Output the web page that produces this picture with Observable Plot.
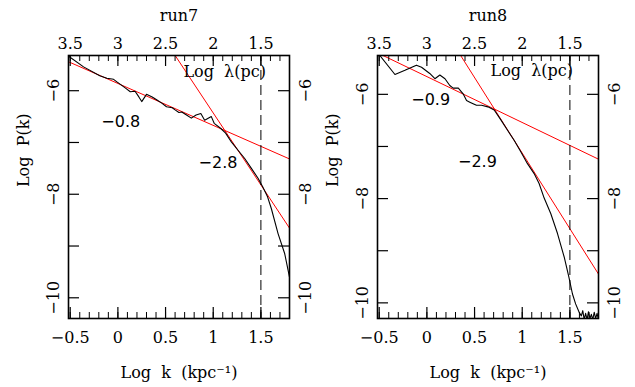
<!DOCTYPE html>
<html>
<head>
<meta charset="utf-8">
<script src="https://cdn.jsdelivr.net/npm/d3@7"></script>
<script src="https://cdn.jsdelivr.net/npm/@observablehq/plot@0.6"></script>
<style>
  html, body { margin: 0; padding: 0; background: #fff; }
  #wrap { display: flex; width: 635px; height: 387px; }
  svg { display: block; }
</style>
</head>
<body>
<div id="wrap"></div>
<script>
// ---- data ----
const panelTitles = ["run7", "run8"];

const run7K = [-0.52, -0.36, -0.19, -0.115, -0.045, -0.01, 0.08, 0.13, 0.18, 0.22, 0.25, 0.30, 0.36, 0.41, 0.46, 0.51, 0.57, 0.60, 0.64, 0.67, 0.72, 0.77, 0.82, 0.87, 0.91, 0.98, 1.01, 1.08, 1.13, 1.19, 1.26, 1.33, 1.40, 1.47, 1.52, 1.57, 1.61, 1.68, 1.75, 1.80];
const run7P = [-5.33, -5.54, -5.71, -5.76, -5.78, -5.83, -5.95, -6.02, -6.01, -6.12, -6.21, -6.07, -6.12, -6.18, -6.24, -6.31, -6.33, -6.37, -6.42, -6.41, -6.47, -6.53, -6.47, -6.44, -6.57, -6.50, -6.63, -6.73, -6.82, -6.99, -7.15, -7.31, -7.50, -7.69, -7.86, -8.05, -8.28, -8.76, -9.15, -9.60];

const run8K = [-0.50, -0.335, -0.23, -0.11, -0.056, 0.03, 0.084, 0.136, 0.19, 0.24, 0.276, 0.33, 0.38, 0.416, 0.45, 0.485, 0.52, 0.573, 0.64, 0.706, 0.776, 0.846, 0.915, 0.985, 1.055, 1.125, 1.177, 1.23, 1.30, 1.37, 1.44, 1.49, 1.527, 1.56, 1.597, 1.62, 1.635, 1.65, 1.665, 1.68, 1.695, 1.71, 1.725, 1.74, 1.755, 1.77, 1.785, 1.80];
const run8P = [-5.24, -5.62, -5.54, -5.44, -5.48, -5.60, -5.70, -5.63, -5.70, -5.83, -5.88, -5.88, -5.99, -6.12, -6.15, -6.18, -6.21, -6.21, -6.24, -6.30, -6.49, -6.69, -6.88, -7.10, -7.33, -7.52, -7.71, -7.99, -8.29, -8.67, -9.12, -9.51, -9.83, -10.02, -10.18, -10.25, -10.15, -10.32, -10.20, -10.32, -10.17, -10.30, -10.22, -10.32, -10.18, -10.30, -10.20, -10.32];

// fitted power-law slopes (label) and intercepts
const run7Slopes = [-0.81, -2.78];
const run7Intercepts = [-5.86, -3.65];
const run7SlopeLabels = ["−0.8", "−2.8"];
const run8Slopes = [-0.88, -2.9];
const run8Intercepts = [-5.66, -4.228];
const run8SlopeLabels = ["−0.9", "−2.9"];

// label anchor positions (data coordinates)
const run7LabelK = [0.03, 1.05];
const run7LabelP = [-6.6, -7.4];
const run8LabelK = [0.04, 0.53];
const run8LabelP = [-6.11, -7.3];

// ticks
const xMajor = [-0.5, 0, 0.5, 1, 1.5];
const xMajorLabels = ["−0.5", "0", "0.5", "1", "1.5"];
const lambdaLabels = ["3.5", "3", "2.5", "2", "1.5"];
const xMinor = d3.range(-5, 19).map(i => i / 10);
const yTicks = [-6, -7, -8, -9, -10];
const yLabelTicks = [-6, -8, -10];
const yLabels = ["−6", "−8", "−10"];
const kCut = 1.5;

const xDomain = [-0.518, 1.8];
const serif = "'DejaVu Serif', serif";
const sans = "'DejaVu Sans', sans-serif";

function panel(cfg) {
  const H = 387, mt = 55, mb = 69;
  const frameH = H - mt - mb;
  const frameW = cfg.width - cfg.ml - cfg.mr;
  const curve = cfg.K.map((k, i) => ({k, p: cfg.P[i]}));
  const fits = [];
  cfg.slopes.forEach((s, j) => {
    [xDomain[0], xDomain[1]].forEach(k => fits.push({fit: j, k, p: cfg.intercepts[j] + s * k}));
  });
  const labels = cfg.slopeLabels.map((t, i) => ({t, k: cfg.labelK[i], p: cfg.labelP[i]}));
  const xIdx = xMajor.map((v, i) => i);
  const T = {fontFamily: serif, fontSize: 16, fill: "#000", lineAnchor: "middle"};
  return Plot.plot({
    width: cfg.width, height: H,
    marginLeft: cfg.ml, marginRight: cfg.mr, marginTop: mt, marginBottom: mb,
    x: {domain: xDomain, axis: null},
    y: {domain: cfg.yDomain, axis: null},
    style: {background: "transparent", overflow: "visible"},
    marks: [
      Plot.line(fits, {x: "k", y: "p", z: "fit", stroke: "#ff0000", strokeWidth: 1, clip: true}),
      Plot.line(curve, {x: "k", y: "p", stroke: "#000", strokeWidth: 1.1, clip: true}),
      Plot.ruleX([kCut], {stroke: "#000", strokeWidth: 1, strokeDasharray: "10,5"}),
      // ticks (inward)
      Plot.tickX(xMajor, {x: d => d, insetTop: frameH - 11, stroke: "#000", strokeWidth: 1.2}),
      Plot.tickX(xMinor, {x: d => d, insetTop: frameH - 6, stroke: "#000", strokeWidth: 1}),
      Plot.tickX(xMajor, {x: d => d, insetBottom: frameH - 11, stroke: "#000", strokeWidth: 1.2}),
      Plot.tickX(xMinor, {x: d => d, insetBottom: frameH - 6, stroke: "#000", strokeWidth: 1}),
      Plot.tickY(yTicks, {y: d => d, insetRight: frameW - 11, stroke: "#000", strokeWidth: 1.2}),
      Plot.tickY(yTicks, {y: d => d, insetLeft: frameW - 11, stroke: "#000", strokeWidth: 1.2}),
      Plot.frame({stroke: "#000", strokeWidth: 1.6}),
      // tick labels
      Plot.text(xIdx, {...T, x: i => xMajor[i], text: i => xMajorLabels[i], frameAnchor: "bottom", dy: 19}),
      Plot.text(xIdx, {...T, x: i => xMajor[i], text: i => lambdaLabels[i], frameAnchor: "top", dy: -12}),
      Plot.text(yLabelTicks.map((v, i) => i), {...T, y: i => yLabelTicks[i], text: i => yLabels[i], frameAnchor: "left", dx: -15, rotate: -90, textAnchor: "middle"}),
      Plot.text(yLabelTicks.map((v, i) => i), {...T, y: i => yLabelTicks[i], text: i => yLabels[i], frameAnchor: "right", dx: 16, rotate: -90, textAnchor: "middle"}),
      // slope labels
      Plot.text(labels, {...T, fontFamily: sans, x: "k", y: "p", text: "t"}),
      // inner lambda label
      Plot.text([cfg.lamPos], {...T, x: d => d[0], y: d => d[1], text: () => "Log  λ(pc)"}),
      // titles and axis labels
      Plot.text([cfg.title], {...T, text: d => d, frameAnchor: "top", dy: -40}),
      Plot.text(["Log  P(k)"], {...T, text: d => d, frameAnchor: "left", dx: -45, rotate: -90}),
      Plot.text(["Log  k  (kpc⁻¹)"], {...T, text: d => d, frameAnchor: "bottom", dy: 54})
    ]
  });
}

const wrap = document.getElementById("wrap");
wrap.append(panel({
  title: panelTitles[0], width: 317, ml: 68, mr: 28,
  yDomain: [-10.40, -5.32], K: run7K, P: run7P,
  slopes: run7Slopes, intercepts: run7Intercepts, slopeLabels: run7SlopeLabels,
  labelK: run7LabelK, labelP: run7LabelP, lamPos: [1.12, -5.64]
}));
wrap.append(panel({
  title: panelTitles[1], width: 318, ml: 60, mr: 37,
  yDomain: [-10.30, -5.255], K: run8K, P: run8P,
  slopes: run8Slopes, intercepts: run8Intercepts, slopeLabels: run8SlopeLabels,
  labelK: run8LabelK, labelP: run8LabelP, lamPos: [1.10, -5.55]
}));
</script>
</body>
</html>
